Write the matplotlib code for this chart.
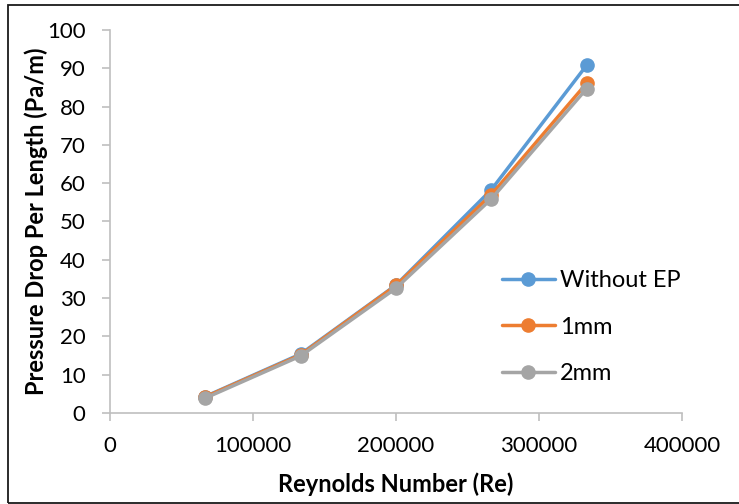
import matplotlib.pyplot as plt
from matplotlib.patches import Rectangle

# data
reynolds = [66667, 133333, 200000, 266667, 333333]
without_ep = [4.3, 15.4, 33.4, 58.3, 90.8]
ep_1mm = [4.2, 15.2, 33.3, 57.0, 86.1]
ep_2mm = [3.9, 14.9, 32.6, 55.9, 84.7]

series = [("Without EP", without_ep, "#5B9BD5"),
          ("1mm", ep_1mm, "#ED7D31"),
          ("2mm", ep_2mm, "#A5A5A5")]

plt.rcParams['font.family'] = ['Lato', 'DejaVu Sans']

fig = plt.figure(figsize=(7.39, 5.04), dpi=100)
ax = fig.add_axes([0.14885, 0.18056, 0.77402, 0.75992])

for name, vals, col in series:
    ax.plot(reynolds, vals, color=col, lw=2.5, marker='o', ms=9.5, label=name,
            solid_capstyle='round')

ax.set_xlim(0, 400000)
ax.set_ylim(0, 100)
ax.set_xticks(range(0, 400001, 100000))
ax.set_yticks(range(0, 101, 10))
ax.tick_params(labelsize=16, color='#BFBFBF', length=5.5, width=1.2)
ax.tick_params(axis='x', pad=11)
ax.tick_params(axis='y', pad=12)
for s in ['top', 'right']:
    ax.spines[s].set_visible(False)
for s in ['left', 'bottom']:
    ax.spines[s].set_color('#BFBFBF')
    ax.spines[s].set_linewidth(1.2)

ax.set_xlabel("Reynolds Number (Re)", fontsize=17, fontweight='bold', labelpad=12)
ax.set_ylabel("Pressure Drop Per Length (Pa/m)", fontsize=17, fontweight='bold', labelpad=-1)

ax.legend(loc='center left', bbox_to_anchor=(0.685, 0.2245), frameon=False,
          fontsize=17, labelspacing=1.07, handlelength=2.25, handletextpad=0.2,
          borderpad=0, borderaxespad=0)

# chart-area border (right edge falls outside the image)
fig.patches.append(Rectangle((7.5 / 739, 1.5 / 504), 1.0, 498 / 504,
                             transform=fig.transFigure, fill=False,
                             edgecolor='#1a1a1a', lw=1.3))

plt.savefig('out.png', dpi=100)
